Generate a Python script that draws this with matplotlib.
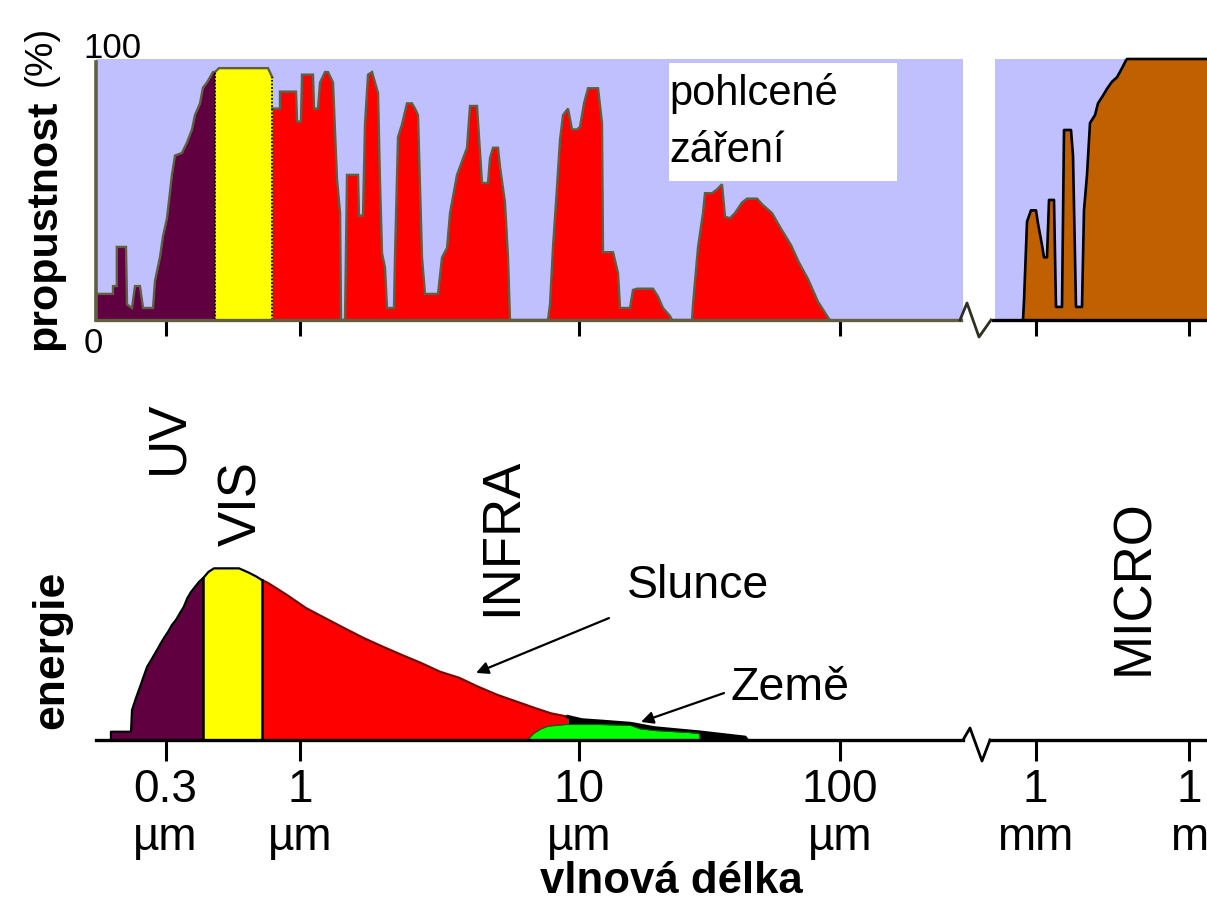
import numpy as np
import matplotlib
matplotlib.use("Agg")
import matplotlib.pyplot as plt
from matplotlib.patches import Rectangle
from matplotlib.lines import Line2D

plt.rcParams['font.family'] = ['Liberation Sans', 'DejaVu Sans']

W, H = 1207, 905

# ---------------- data ----------------
# top panel: atmospheric transmission (%) vs wavelength (um)
top_uv_um = [0.161, 0.161, 0.1875, 0.1875, 0.194, 0.194, 0.2106, 0.2126, 0.2222, 0.2283,
             0.2386, 0.2453, 0.2683, 0.2731, 0.2855, 0.2933, 0.3040, 0.3179, 0.3266, 0.3476,
             0.3636, 0.3803, 0.3906, 0.4085, 0.4197, 0.4349, 0.4589, 0.467]
top_uv_pct = [0, 10, 10, 13, 13, 28, 28, 6, 4.6, 13,
              13, 4.6, 4.6, 15, 24, 32, 39, 55.6, 63, 64,
              68, 73, 78.5, 83, 89, 91, 95, 95]

top_vis_um = [0.467, 0.4842, 0.7509, 0.78]
top_vis_pct = [95, 96.5, 96.5, 93]

top_ir_um = [0.78, 0.8361, 0.8361, 0.9648, 0.9735, 1.008, 1.017, 1.113, 1.123, 1.160,
             1.180, 1.229, 1.260, 1.313, 1.357, 1.392, 1.403, 1.450, 1.474, 1.614,
             1.627, 1.682, 1.710, 1.753, 1.812, 1.857, 1.904, 1.935, 1.968, 2.017,
             2.050, 2.172, 2.190, 2.245, 2.321, 2.418, 2.520, 2.583, 2.648, 2.737,
             2.805, 3.124, 3.228, 3.365, 3.449, 3.654, 3.968, 4.068, 4.309, 4.345,
             4.491, 4.719, 4.797, 4.918, 5.125, 5.210, 5.429, 5.566, 5.658, 7.743,
             7.872, 8.069, 8.341, 8.549, 8.764, 9.133, 9.439, 9.836, 10.09, 10.45,
             10.83, 11.83, 12.25, 12.36, 13.50, 14.11, 14.36, 15.68, 16.10, 16.68,
             19.21, 20.08, 20.98, 22.32, 22.71, 27.10, 27.34, 28.58, 29.86, 30.39,
             32.33, 33.79, 35.31, 36.26, 37.89, 39.60, 42.12, 44.02, 48.09, 50.70,
             54.88, 59.41, 64.91, 69.66, 75.42, 82.37, 89.96, 91.56]
top_ir_pct = [81, 81, 87.5, 87.5, 76, 76, 94, 94, 81, 81,
              91, 95, 95, 91, 54, 41, 0, 0, 55.6, 55.6,
              40, 40, 75, 94, 95, 91, 87, 53, 25.6, 20,
              4.6, 4.6, 24, 70, 75, 83, 83, 81, 78.5, 24,
              10, 10, 24, 27.6, 41, 55.6, 66, 82, 82, 76,
              52.5, 52.5, 62, 66, 66, 58.7, 45, 24, 0, 0,
              6, 28, 51, 69, 78.5, 81, 73, 73, 74, 83,
              88.8, 88.8, 75.4, 26, 26, 18, 4.6, 4.6, 11.5, 12,
              12, 9, 4.6, 1.5, 0, 0, 6, 28, 41, 48.6,
              48.6, 50, 52, 39.6, 39, 41, 45, 46.5, 46.5, 44,
              41, 35, 28.7, 22, 15.7, 7, 1, 0]

top_micro_um = [863, 873, 905, 948, 1023, 1119, 1340, 1466, 1678, 1836,
                2299, 2515, 3296, 3606, 4941, 5406, 6185, 8105, 8866, 10150,
                11620, 14550, 16650, 20850, 24970, 31260, 39150, 49020, 58690, 61390,
                3.0e6]
top_micro_pct = [0, 7, 37.7, 42, 42, 37, 28.7, 24, 24, 46,
                 46, 5, 5, 72.8, 72.8, 63, 5, 5, 42, 55.6,
                 75.5, 78.5, 83, 86, 88.6, 91.3, 93, 96.5, 99.5, 100,
                 100]

# bottom panel: emitted energy (relative) of the Sun and the Earth
bot_uv_um = [0.1841, 0.1841, 0.2203, 0.2223, 0.2303, 0.2387, 0.2463, 0.2542, 0.2682, 0.2780,
             0.2881, 0.2975, 0.3068, 0.3179, 0.3295, 0.3415, 0.3530, 0.3652, 0.3768, 0.3906,
             0.4048, 0.4195]
bot_uv_e = [0, 4.8, 4.8, 17.4, 24.4, 30.8, 36.6, 42.4, 48.3, 52.3,
            56.4, 59.9, 62.8, 66.9, 69.8, 73.8, 77.3, 82.6, 86.0, 89.0,
            91.9, 94.0]

bot_vis_um = [0.4195, 0.4412, 0.4631, 0.5792, 0.6324, 0.6768, 0.7116]
bot_vis_e = [94.0, 97.8, 99.8, 99.8, 97.3, 95.0, 93.0]

sun_um = [0.7116, 0.7508, 0.8901, 1.051, 1.229, 1.438, 1.690, 1.984, 2.321, 2.714,
          3.175, 3.715, 4.345, 5.104, 5.979, 7.000, 7.937, 9.133, 10.27, 12.25,
          15.82, 19.38, 29.08, 43.25, 44.02]
sun_e = [93.0, 91.3, 84.3, 76.7, 70.9, 65.1, 59.3, 54.2, 49.4, 44.8,
         39.7, 36.2, 31.0, 26.2, 22.3, 18.4, 15.5, 13.5, 11.6, 10.8,
         9.5, 7.0, 4.5, 1.5, 0]
sun_red_end_um = 9.133

earth_um = [6.51, 6.90, 7.31, 7.74, 8.91, 12.04, 15.68, 17.13, 19.55, 28.83, 29.08]
earth_e = [0, 4.0, 6.5, 8.0, 9.0, 9.0, 8.5, 6.5, 5.5, 4.0, 0]

tick_um = [0.3, 1, 10, 100, 1000, 1e6]
tick_labels = ["0.3\nµm", "1\nµm", "10\nµm", "100\nµm", "1\nmm", "1\nm"]

slunce_tip, slunce_tail = (4.274, 39.0), (13.03, 70.9)
zeme_tip, zeme_tail = (17.28, 10.5), (35.94, 27.3)

# axis break (wavelengths where the drawing is interrupted)
gap_left_um, gap_right_um = 425.8, 620.6
base_top_end_um, base_top_start_um = 415.9, 606.2
base_bot_end_um, base_bot_start_um = 425.8, 585.1

# ---------------- colours ----------------
LAV = '#C0C0FF'
PURPLE = '#600040'
YELLOW = '#FFFF00'
RED = '#FF0000'
BROWN = '#C06000'
GREEN = '#00FF00'
OLIVE = '#606040'
DARKRED = '#800000'

# ---------------- custom broken log scale ----------------
scale_log = np.array([-2.0, np.log10(0.3), 0.0, 1.0, 2.0, 3.0, 6.0, 8.0])
scale_pos = np.array([-214.4, 165.5, 300.0, 579.0, 840.0, 1035.5, 1189.0, 1291.3])


def fwd(x):
    x = np.asarray(x, dtype=float)
    lx = np.log10(np.where(x > 0, x, 1e-10))
    return np.interp(lx, scale_log, scale_pos)


def inv(u):
    u = np.asarray(u, dtype=float)
    return 10 ** np.interp(u, scale_pos, scale_log)


fig = plt.figure(figsize=(W / 100, H / 100), dpi=100)
fig.patch.set_facecolor('white')

ax_t = fig.add_axes([96 / W, 1 - 320 / H, (W - 96) / W, 261 / H])
ax_b = fig.add_axes([96 / W, 1 - 740 / H, (W - 96) / W, 172 * 1.1 / H])

x_lo, x_hi = float(inv(96)), float(inv(1207))
for ax in (ax_t, ax_b):
    ax.set_xscale('function', functions=(fwd, inv))
    ax.set_xlim(x_lo, x_hi)
    ax.set_facecolor('none')
    for s in ax.spines.values():
        s.set_visible(False)
    ax.set_yticks([])
    ax.set_xticks(tick_um)
    ax.xaxis.set_minor_locator(matplotlib.ticker.NullLocator())

ax_t.set_ylim(0, 100)
ax_b.set_ylim(0, 110)

# ---------- top panel ----------
ax_t.axvspan(x_lo, gap_left_um, color=LAV, lw=0, zorder=0)
ax_t.axvspan(gap_right_um, x_hi, color=LAV, lw=0, zorder=0)

ax_t.fill_between(top_uv_um, top_uv_pct, color=PURPLE, lw=0, zorder=2)
ax_t.fill_between(top_vis_um, top_vis_pct, color=YELLOW, lw=0, zorder=2)
ax_t.fill_between(top_ir_um, top_ir_pct, color=RED, lw=0, zorder=2)
ax_t.fill_between(top_micro_um, top_micro_pct, color=BROWN, lw=0, zorder=2)

for xs, ys in ((top_uv_um, top_uv_pct), (top_vis_um, top_vis_pct), (top_ir_um, top_ir_pct)):
    ax_t.plot(xs, ys, color=OLIVE, lw=1.7, zorder=3, solid_joinstyle='miter', clip_on=False)
ax_t.plot(top_micro_um, top_micro_pct, color='black', lw=1.9, zorder=3, clip_on=False)
ax_t.plot([top_vis_um[0]] * 2, [0, top_vis_pct[0]], color='black', lw=1.3, ls=(0, (1, 1)), zorder=4)
ax_t.plot([top_vis_um[-1]] * 2, [0, top_vis_pct[-1]], color='black', lw=1.3, ls=(0, (1, 1)), zorder=4)

# baselines
ax_t.plot([x_lo, base_top_end_um], [0, 0], color=OLIVE, lw=2.4, zorder=4, clip_on=False)
ax_t.plot([base_top_start_um, x_hi], [0, 0], color='black', lw=2.4, zorder=4, clip_on=False)
ax_t.plot([x_lo, x_lo], [0, 99], color=OLIVE, lw=2.6, zorder=4, clip_on=False)

ax_t.tick_params(axis='x', direction='out', length=11.5, width=2.2, color='black',
                 labelbottom=False)

# white label box
ax_t.add_patch(Rectangle((0.5158, 0.5326), 0.2052, 0.4521, transform=ax_t.transAxes,
                         facecolor='white', edgecolor='none', zorder=5))
ax_t.text(0.5158, 0.8238, "pohlcené", transform=ax_t.transAxes, fontsize=30,
          ha='left', va='baseline', zorder=6)
ax_t.text(0.5158, 0.6065, "záření", transform=ax_t.transAxes, fontsize=30,
          ha='left', va='baseline', zorder=6)

# ---------- bottom panel ----------
ax_b.fill_between(bot_uv_um, bot_uv_e, color=PURPLE, lw=0, zorder=2)
ax_b.fill_between(bot_vis_um, bot_vis_e, color=YELLOW, lw=0, zorder=2)
sun_x = np.array(sun_um)
sun_y = np.array(sun_e)
red_part = sun_x <= sun_red_end_um
tail_part = sun_x >= sun_red_end_um
ax_b.fill_between(sun_x[red_part], sun_y[red_part], color=RED, lw=0, zorder=2)
ax_b.fill_between(sun_x[tail_part], sun_y[tail_part], color='black', lw=0, zorder=2)
ax_b.fill_between(earth_um, earth_e, color=GREEN, lw=0, zorder=3)

ax_b.plot(bot_uv_um, bot_uv_e, color='black', lw=1.6, zorder=4, clip_on=False)
ax_b.plot(bot_vis_um, bot_vis_e, color='black', lw=1.6, zorder=4, clip_on=False)
ax_b.plot(sun_x[red_part], sun_y[red_part], color=DARKRED, lw=1.6, zorder=4)
ax_b.plot(sun_x[tail_part], sun_y[tail_part], color='black', lw=2.6, zorder=4)
ax_b.plot(earth_um, earth_e, color='#006000', lw=0.8, zorder=4)
ax_b.plot([bot_vis_um[0]] * 2, [0, bot_vis_e[0]], color='black', lw=1.8, zorder=4)
ax_b.plot([bot_vis_um[-1]] * 2, [0, bot_vis_e[-1]], color='black', lw=1.8, zorder=4)

ax_b.plot([x_lo, base_bot_end_um], [0, 0], color='black', lw=2.4, zorder=5, clip_on=False)
ax_b.plot([base_bot_start_um, x_hi], [0, 0], color='black', lw=2.4, zorder=5, clip_on=False)

ax_b.set_xticklabels(tick_labels, fontsize=33, linespacing=1.12)
ax_b.tick_params(axis='x', direction='out', length=15, width=2.2, color='black', pad=5)

arrow_kw = dict(arrowstyle='-|>', color='black', lw=1.6, mutation_scale=18,
                shrinkA=0, shrinkB=0)
ax_b.annotate("", xy=slunce_tip, xytext=slunce_tail, arrowprops=arrow_kw,
              annotation_clip=False, zorder=6)
ax_b.annotate("", xy=zeme_tip, xytext=zeme_tail, arrowprops=arrow_kw,
              annotation_clip=False, zorder=6)


# ---------- texts (figure pixel layout) ----------
def ftext(px, py, s, **kw):
    fig.text(px / W, 1 - py / H, s, **kw)


rot = dict(rotation=90, rotation_mode='anchor', ha='center', va='baseline')
ftext(55, 225, "propustnost", fontsize=31, fontweight='bold', **rot)
ftext(51, 56, "(%)", fontsize=28, **rot)
ftext(63, 650, "energie", fontsize=32, fontweight='bold', **rot)
ftext(182, 437, "UV", fontsize=38, **rot)
ftext(256, 504, "VIS", fontsize=38, **rot)
ftext(516, 537, "INFRA", fontsize=38, **rot)
ftext(1148, 587, "MICRO", fontsize=38, **rot)

ftext(112, 58, "100", fontsize=25, ha='center', va='baseline')
ftext(93, 353, "0", fontsize=25, ha='center', va='baseline')
ftext(627, 598, "Slunce", fontsize=33.5, ha='left', va='baseline')
ftext(731, 700, "Země", fontsize=33.5, ha='left', va='baseline')
ftext(671, 893, "vlnová délka", fontsize=31.5, fontweight='bold', ha='center', va='baseline')

# axis-break zigzags
def zig(pts, color):
    xs = [p[0] / W for p in pts]
    ys = [1 - p[1] / H for p in pts]
    fig.add_artist(Line2D(xs, ys, color=color, lw=2.0, transform=fig.transFigure))


zig([(960, 320), (967, 303), (979, 337), (991, 320)], '#303020')
zig([(963, 740), (970, 728), (982, 761), (990, 740)], 'black')

fig.savefig("out.png", dpi=100)
